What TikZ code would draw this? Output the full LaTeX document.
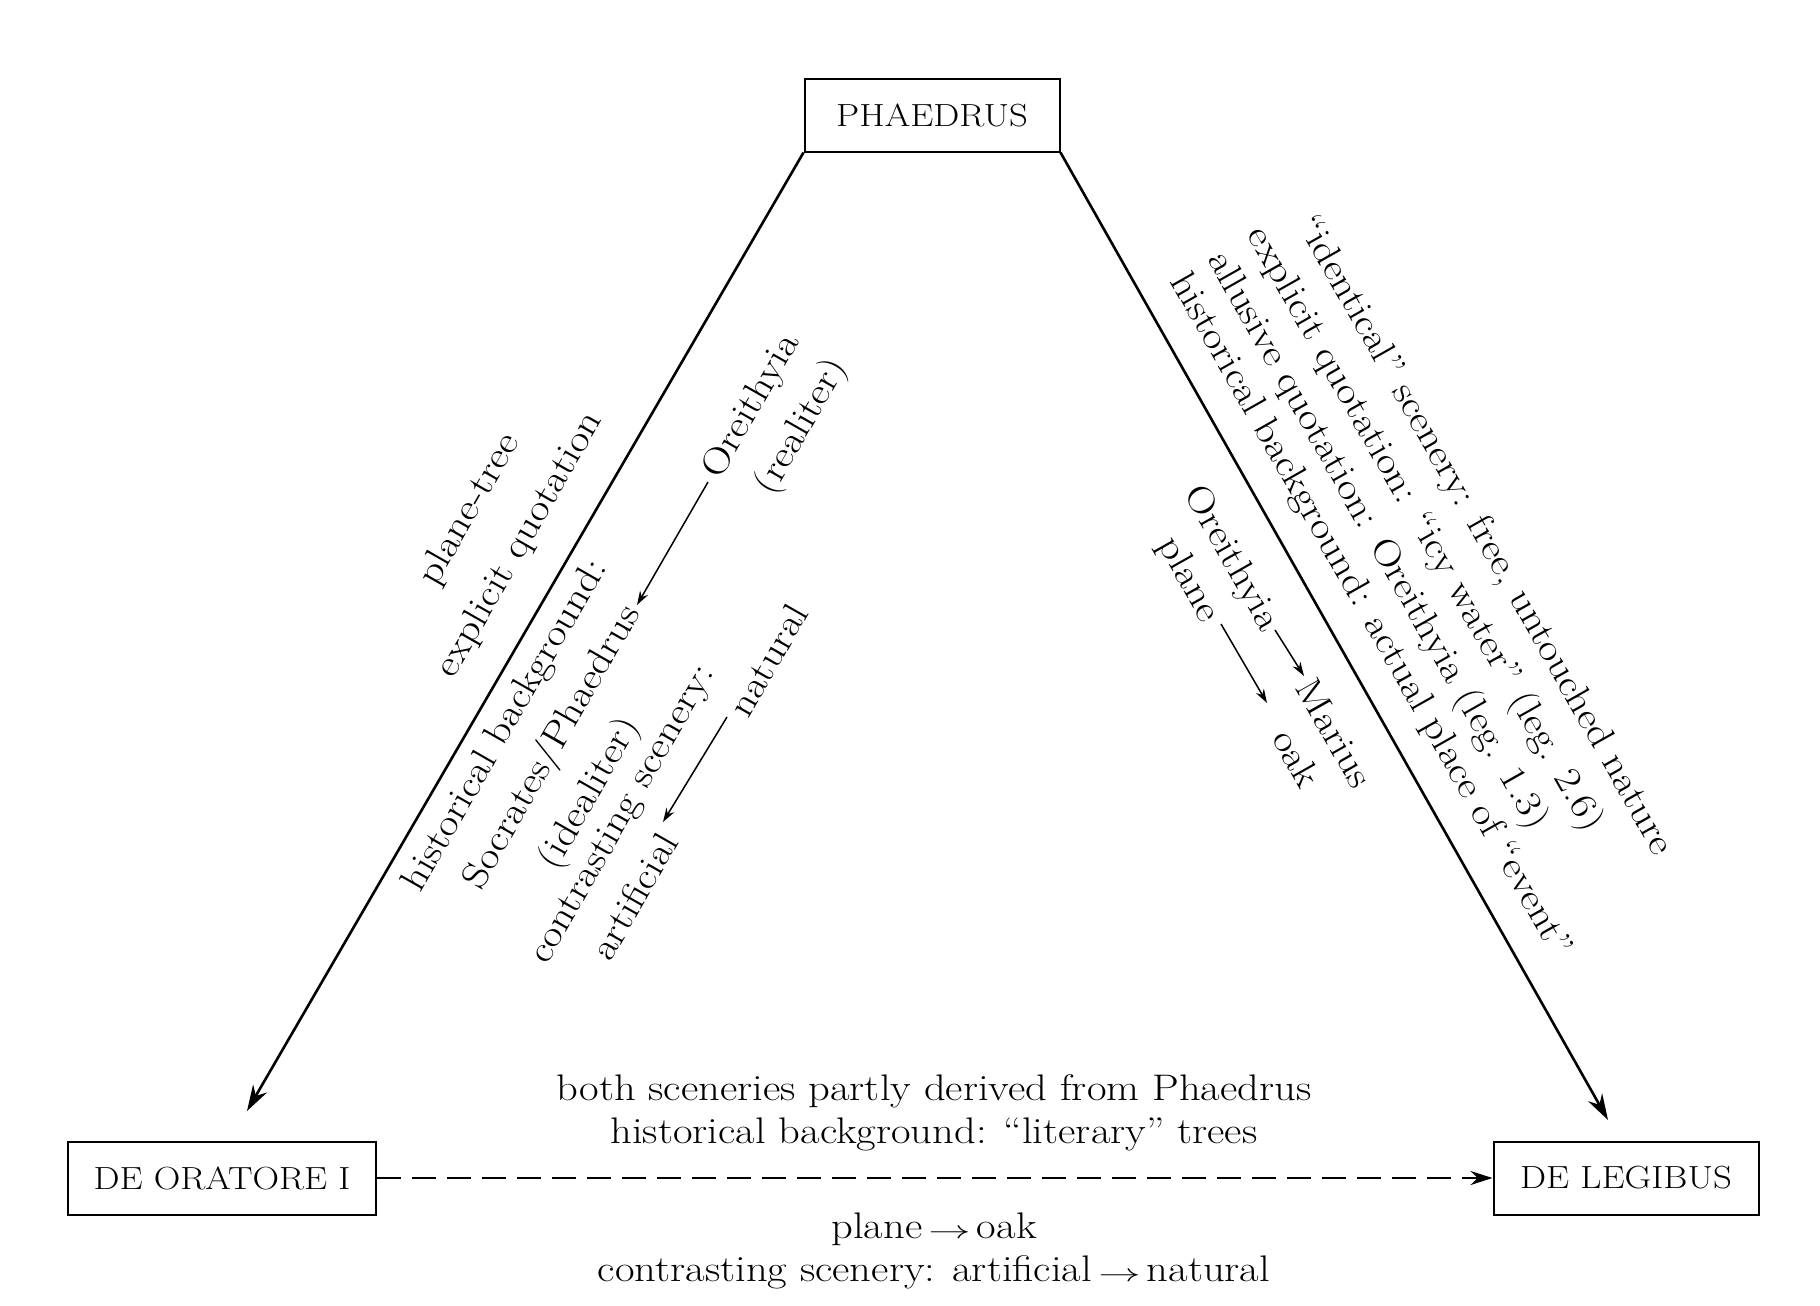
\documentclass[tikz,border=0pt]{standalone}
\usepackage{fontspec}
\setmainfont{Latin Modern Roman}[FakeStretch=1.15]
\usetikzlibrary{arrows.meta}
\newcommand{\myarr}{\,\scalebox{1.7}[1]{$\rightarrow$}\,}
\begin{document}
\begin{tikzpicture}[x=1pt,y=-1pt,
  every node/.style={font=\fontsize{37}{44}\selectfont, inner sep=0pt},
  box/.style={draw, line width=2pt, minimum height=73pt, inner sep=0pt, font=\fontsize{32}{38}\selectfont},
  big/.style={line width=2.6pt, -{Stealth[length=26pt,width=16pt]}},
  small/.style={line width=1.5pt, -{Stealth[length=14pt,width=9pt]}},
  L/.style={rotate=60.2}, R/.style={rotate=-60.5}]
\useasboundingbox (0,0) rectangle (1820,1306);
\node[box, minimum width=255pt] (ph) at (932,115) {PHAEDRUS};
\node[box, minimum width=308pt] (deo) at (222,1178) {DE ORATORE I};
\node[box, minimum width=265pt] (del) at (1626,1178) {DE LEGIBUS};
\coordinate (le) at (247,1111);
\coordinate (re) at (1608,1120);
\draw[big] (ph.south west) -- (le);
\draw[big] (ph.south east) -- (re);
\draw[line width=2.2pt, dash pattern=on 24pt off 11pt, -{Stealth[length=22pt,width=14pt]}] (deo.east) -- (del.west);
% bottom texts
\node (b1) at (934,1091) {both sceneries partly derived from Phaedrus};
\node (b2) at (934,1134) {historical background: ``literary'' trees};
\node (b3) at (934,1229) {plane\myarr oak};
\node (b4) at (934,1272) {contrasting scenery: artificial\myarr natural};
% left rotated
\node[L] (l1) at (470,510) {plane-tree};
\node[L] (l2) at (520,545) {explicit quotation};
\node[L] (l3) at (506,726) {historical background:};
\node[L] (l4) at (553,748) {Socrates/Phaedrus};
\node[L] (l5) at (590,794) {(idealiter)};
\node[L] (l6) at (624,815) {contrasting scenery:};
\node[L] (l7) at (634,896) {artificial};
\node[L] (l8) at (768,660) {natural};
\node[L] (l9) at (752,406) {Oreithyia};
\node[L] (l10) at (802,427) {(realiter)};
\coordinate (a1s) at (708,482); \coordinate (a1e) at (637,605);
\coordinate (a2s) at (727,717); \coordinate (a2e) at (663,822);
\draw[small] (a1s) -- (a1e);
\draw[small] (a2s) -- (a2e);
% right rotated
\node[R] (r1) at (1484,536) {``identical'' scenery: free, untouched nature};
\node[R] (r2) at (1424,530) {explicit quotation: ``icy water'' (leg. 2.6)};
\node[R] (r3) at (1377,541) {allusive quotation: Oreithyia (leg. 1.3)};
\node[R] (r4) at (1370,616) {historical background: actual place of ``event''};
\node[R] (r5) at (1231,559) {Oreithyia};
\node[R] (r6) at (1335,733) {Marius};
\node[R] (r7) at (1188,580) {plane};
\node[R] (r8) at (1297,758) {oak};
\coordinate (a3s) at (1275,630); \coordinate (a3e) at (1304,676);
\coordinate (a4s) at (1221,624); \coordinate (a4e) at (1267,703);
\draw[small] (a3s) -- (a3e);
\draw[small] (a4s) -- (a4e);
\end{tikzpicture}
\end{document}
